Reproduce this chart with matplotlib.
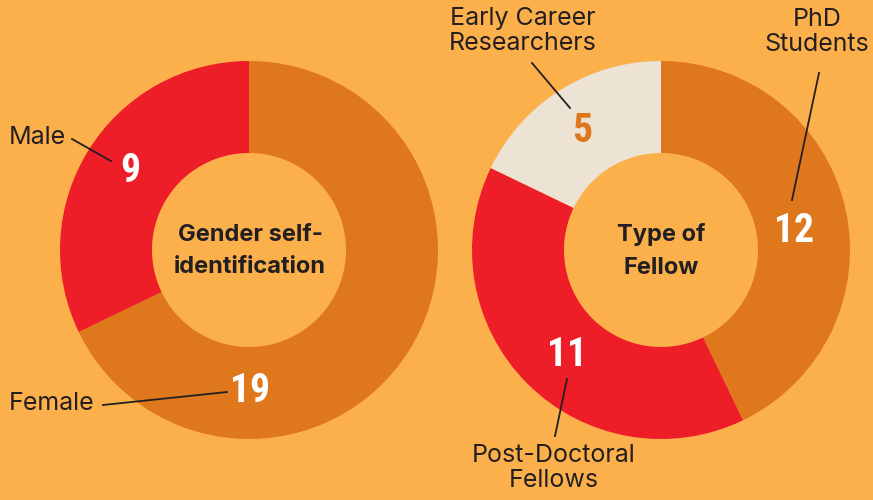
import matplotlib.pyplot as plt

# data
gender_labels = ['Female', 'Male']
gender_values = [19, 9]
fellow_labels = ['PhD\nStudents', 'Post-Doctoral\nFellows', 'Early Career\nResearchers']
fellow_values = [12, 11, 5]

bg = '#FCB04B'
dark_orange = '#DF781D'
red = '#ED1E27'
beige = '#ECE3D4'
ink = '#231F20'

W, H = 873, 500
fig = plt.figure(figsize=(W / 100, H / 100), dpi=100, facecolor=bg)
ax = fig.add_axes([0, 0, 1, 1])
ax.set_facecolor(bg)

def Y(py):
    # pixel row from top -> data y
    return H - py

label_font = dict(family=['Inter', 'DejaVu Sans'], fontsize=18, color=ink)
num_font = dict(family=['Roboto Condensed', 'DejaVu Sans'], fontweight='bold',
                fontsize=28.5, stretch='condensed')
center_font = dict(family=['Inter', 'DejaVu Sans'], fontsize=17, fontweight='bold',
                   color=ink, linespacing=1.6)

R, wid = 189, 92
# left donut - gender
ax.pie(gender_values, colors=[dark_orange, red], startangle=90, counterclock=False,
       center=(249, Y(250)), radius=R, wedgeprops=dict(width=wid, linewidth=0))
# right donut - type of fellow
ax.pie(fellow_values, colors=[dark_orange, red, beige], startangle=90, counterclock=False,
       center=(661, Y(250)), radius=R, wedgeprops=dict(width=wid, linewidth=0))

ax.set_xlim(0, W)
ax.set_ylim(0, H)
ax.set_aspect('equal')
ax.axis('off')

# centre titles
ax.text(250, Y(251), 'Gender self-\nidentification', ha='center', va='center', **center_font)
ax.text(661, Y(251), 'Type of\nFellow', ha='center', va='center', **center_font)

# gender labels
ax.text(9, Y(137), gender_labels[1], ha='left', va='center', **label_font)
ax.plot([72, 111], [Y(139), Y(161)], color=ink, lw=1.3)
ax.text(130, Y(171), str(gender_values[1]), ha='center', va='center', color='white', **num_font)

ax.text(9, Y(404), gender_labels[0], ha='left', va='center', **label_font)
ax.plot([103, 227], [Y(405), Y(392)], color=ink, lw=1.3)
ax.text(250, Y(391), str(gender_values[0]), ha='center', va='center', color='white', **num_font)

# fellow labels
ax.text(817, Y(32), fellow_labels[0], ha='center', va='center', linespacing=1.1, **label_font)
ax.plot([819, 792], [Y(73), Y(200)], color=ink, lw=1.3)
ax.text(794, Y(231), str(fellow_values[0]), ha='center', va='center', color='white', **num_font)

ax.text(554, Y(468), fellow_labels[1], ha='center', va='center', linespacing=1.1, **label_font)
ax.plot([567, 555], [Y(379), Y(436)], color=ink, lw=1.3)
ax.text(567, Y(355), str(fellow_values[1]), ha='center', va='center', color='white', **num_font)

ax.text(523, Y(31), fellow_labels[2], ha='center', va='center', linespacing=1.1, **label_font)
ax.plot([532, 570], [Y(63), Y(108)], color=ink, lw=1.3)
ax.text(582, Y(131), str(fellow_values[2]), ha='center', va='center', color=dark_orange, **num_font)

fig.savefig('out.png', dpi=100, facecolor=bg)
